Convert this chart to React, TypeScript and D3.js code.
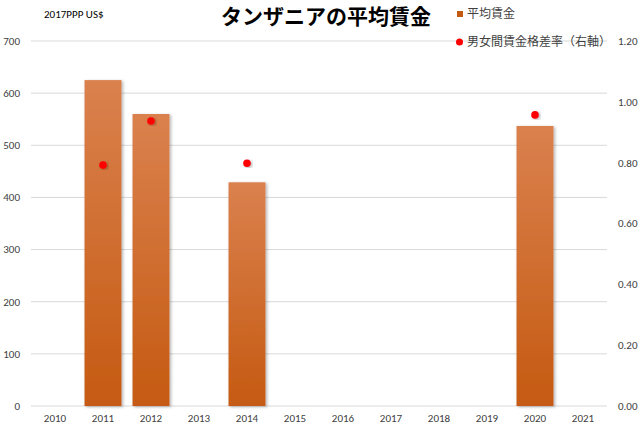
import React from "react";
import * as d3 from "d3";

const years = ["2010","2011","2012","2013","2014","2015","2016","2017","2018","2019","2020","2021"];
const wages: (number | null)[] = [null, 625, 560, null, 429, null, null, null, null, null, 537, null];
const gapRatio: (number | null)[] = [null, 0.792, 0.937, null, 0.798, null, null, null, null, null, 0.957, null];
const leftTicks = [0, 100, 200, 300, 400, 500, 600, 700];
const rightTicks = [0, 0.2, 0.4, 0.6, 0.8, 1.0, 1.2];

const W = 642, H = 432;
const numFont = "Carlito, 'Liberation Sans', Arial, sans-serif";
const jpFont = "'Noto Sans CJK JP', sans-serif";

export default function App() {
  const x = d3.scaleBand<string>().domain(years).range([31, 607]).paddingInner(0.23).paddingOuter(0.115);
  const yL = d3.scaleLinear().domain([0, 700]).range([406, 41]);
  const yR = d3.scaleLinear().domain([0, 1.2]).range([406, 41]);
  return (
    <svg width={W} height={H} style={{ position: "absolute", left: 0, top: 0, background: "#fff" }}>
      <defs>
        <linearGradient id="barGrad" x1="0" y1="0" x2="0" y2="1">
          <stop offset="0" stopColor="#da814e" />
          <stop offset="1" stopColor="#c55a12" />
        </linearGradient>
        <filter id="shadow" x="-20%" y="-5%" width="140%" height="115%">
          <feDropShadow dx="1.5" dy="1" stdDeviation="1.5" floodColor="#000" floodOpacity="0.3" />
        </filter>
      </defs>
      {leftTicks.map(t => (
        <line key={"g" + t} x1={31} x2={607} y1={yL(t)} y2={yL(t)} stroke="#d9d9d9" strokeWidth={1} />
      ))}
      {leftTicks.map(t => (
        <text key={"l" + t} x={20} y={yL(t)} dy="0.35em" textAnchor="end" fontSize={11} fontFamily={numFont} fill="#404040">{t}</text>
      ))}
      {rightTicks.map(t => (
        <text key={"r" + t} x={618} y={yR(t)} dy="0.35em" textAnchor="start" fontSize={11} fontFamily={numFont} fill="#404040">{t.toFixed(2)}</text>
      ))}
      {years.map(yr => (
        <text key={"x" + yr} x={(x(yr) as number) + x.bandwidth() / 2} y={422} textAnchor="middle" fontSize={11} fontFamily={numFont} fill="#404040">{yr}</text>
      ))}
      {years.map((yr, i) => wages[i] == null ? null : (
        <rect key={"b" + yr} x={x(yr)} y={yL(wages[i] as number)} width={x.bandwidth()} height={yL(0) - yL(wages[i] as number)} fill="url(#barGrad)" filter="url(#shadow)" />
      ))}
      {years.map((yr, i) => gapRatio[i] == null ? null : (
        <circle key={"d" + yr} cx={(x(yr) as number) + x.bandwidth() / 2} cy={yR(gapRatio[i] as number)} r={3.8} fill="#ff0000" filter="url(#shadow)" />
      ))}
      <text x={44} y={18} fontSize={11} fontFamily={numFont} fill="#000">2017PPP US$</text>
      <text x={326} y={24} textAnchor="middle" fontSize={21} fontWeight="bold" fontFamily={jpFont} fill="#000">タンザニアの平均賃金</text>
      <rect x={457} y={11} width={6} height={6} fill="#c55a12" />
      <text x={467} y={14} dy="0.35em" fontSize={12} fontFamily={jpFont} fill="#404040">平均賃金</text>
      <circle cx={459.5} cy={42} r={3.5} fill="#ff0000" />
      <text x={467} y={42} dy="0.35em" fontSize={12} fontFamily={jpFont} fill="#404040">男女間賃金格差率（右軸）</text>
    </svg>
  );
}
